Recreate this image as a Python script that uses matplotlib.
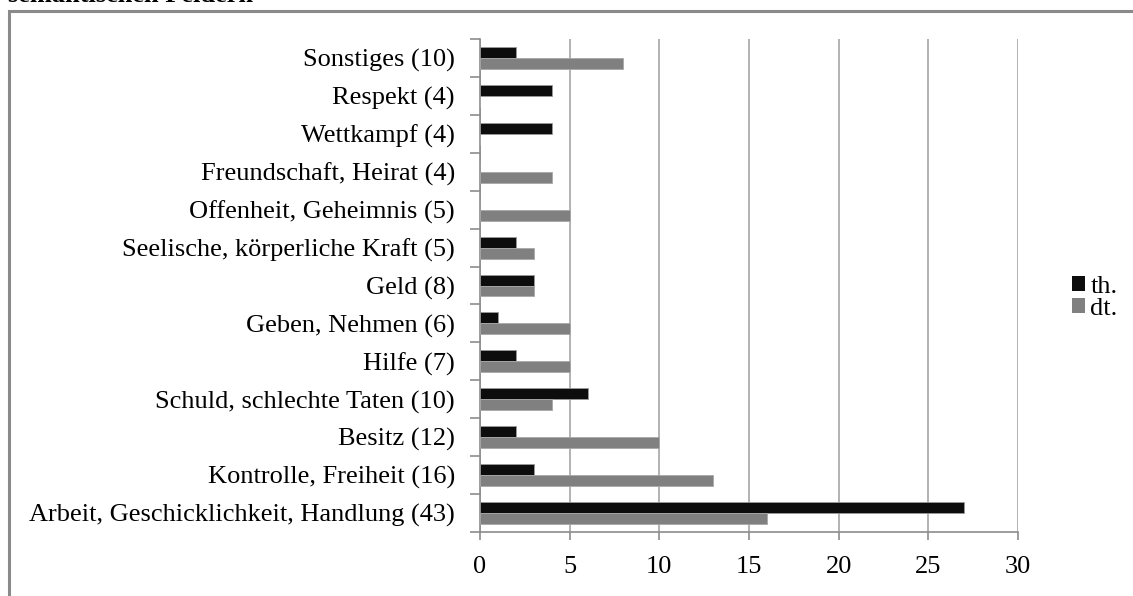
import matplotlib
matplotlib.use("Agg")
import matplotlib.pyplot as plt
from matplotlib.patches import Rectangle
import numpy as np

categories = [
    "Sonstiges (10)",
    "Respekt (4)",
    "Wettkampf (4)",
    "Freundschaft, Heirat (4)",
    "Offenheit, Geheimnis (5)",
    "Seelische, körperliche Kraft (5)",
    "Geld (8)",
    "Geben, Nehmen (6)",
    "Hilfe (7)",
    "Schuld, schlechte Taten (10)",
    "Besitz (12)",
    "Kontrolle, Freiheit (16)",
    "Arbeit, Geschicklichkeit, Handlung (43)",
]
th_values = [2, 4, 4, 0, 0, 2, 3, 1, 2, 6, 2, 3, 27]
dt_values = [8, 0, 0, 4, 5, 3, 3, 5, 5, 4, 10, 13, 16]
series_names = ["th.", "dt."]
xticks = [0, 5, 10, 15, 20, 25, 30]

plt.rcParams['font.family'] = ['Liberation Serif', 'DejaVu Serif']

W, H = 1133, 596
FS = 19
fig = plt.figure(figsize=(W / 100, H / 100), dpi=100)
ax = fig.add_axes([480 / W, 1 - 532 / H, (1018 - 480) / W, (532 - 39) / H])

n = len(categories)
y = np.arange(n)[::-1]  # first category on top
bh = 0.29
ax.barh(y + bh / 2, th_values, height=bh, color="#0d0d0d", edgecolor="#9a9a9a",
        linewidth=0.6, label=series_names[0], zorder=3)
ax.barh(y - bh / 2, dt_values, height=bh, color="#808080", edgecolor="#a8a8a8",
        linewidth=0.6, label=series_names[1], zorder=3)

ax.set_xlim(0, 30)
ax.set_ylim(-0.5, n - 0.5)
ax.set_xticks(xticks)
ax.set_xticklabels([str(t) for t in xticks], fontsize=FS)
ax.set_yticks(y)
ax.set_yticklabels(categories, fontsize=FS)
ax.set_yticks(np.arange(-0.5, n, 1.0), minor=True)
ax.tick_params(axis='y', which='major', length=0, pad=18)
ax.tick_params(axis='y', which='minor', length=7, color="#8c8c8c", width=1.2)
ax.tick_params(axis='x', which='major', length=6, color="#8c8c8c", width=1.2, pad=11)

ax.grid(axis='x', color="#a6a6a6", linewidth=1.2, zorder=0)
for s in ['top', 'right']:
    ax.spines[s].set_visible(False)
for s in ['left', 'bottom']:
    ax.spines[s].set_color("#8c8c8c")
    ax.spines[s].set_linewidth(1.2)

leg = fig.legend(loc='upper left', bbox_to_anchor=(1072 / W, 1 - 276 / H),
                 frameon=False, fontsize=FS, handlelength=0.5, handleheight=0.5,
                 handletextpad=0.2, labelspacing=0.0, borderaxespad=0,
                 borderpad=0)
for p in leg.get_patches():
    p.set_edgecolor('none')

# outer frame (cut at right and bottom)
fig.patches.append(Rectangle((9 / W, -0.2), 1.2, 1.2 - 11 / H,
                             transform=fig.transFigure, fill=False,
                             edgecolor="#8a8a8a", linewidth=2.2))
fig.text(8 / W, 1 - 2 / H, "semantischen Feldern", fontsize=FS, fontweight='bold',
         va='baseline', ha='left')

fig.savefig("out.png", dpi=100)
